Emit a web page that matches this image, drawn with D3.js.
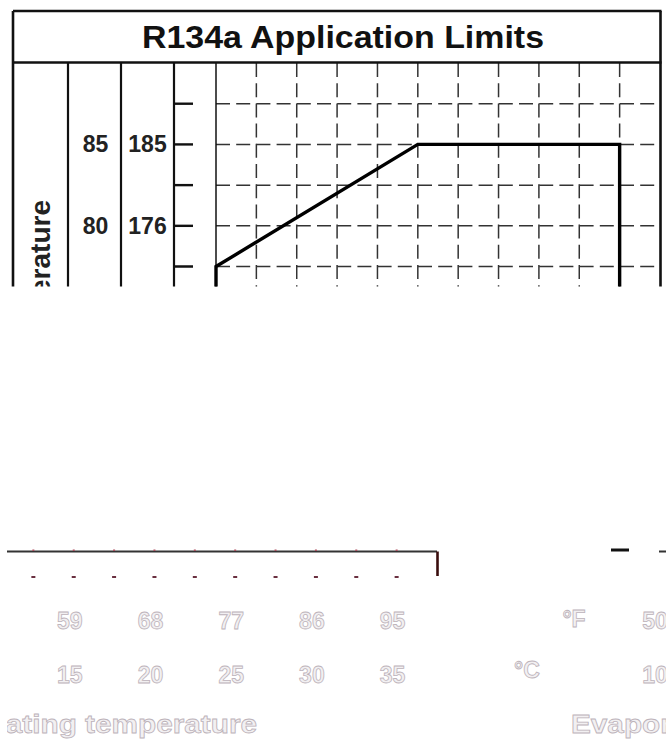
<!DOCTYPE html>
<html><head><meta charset="utf-8">
<script src="https://cdn.jsdelivr.net/npm/d3@7"></script>
<style>html,body{margin:0;padding:0;background:#fff;} svg{display:block;}</style>
</head><body>
<svg id="c" width="666" height="740"></svg>
<script>
// ---- data ----
const title = "R134a  Application Limits";
const yAxisTitle = "Condensing temperature";
const xAxisTitle = "Evaporating temperature";
const yGrid = [62.5, 65, 67.5, 70, 72.5, 75, 77.5, 80, 82.5, 85, 87.5];
const yLabelsC = [65, 70, 75, 80, 85];
const yLabelsF = [149, 158, 167, 176, 185];
const xGrid = [12.5, 15, 17.5, 20, 22.5, 25, 27.5, 30, 32.5, 35];
const xLabelsC = [10, 15, 20, 25, 30, 35];
const xLabelsF = [50, 59, 68, 77, 86, 95];
const envEvap = [10, 10, 22.5, 35, 35];
const envCond = [75, 77.5, 85, 85, 75];

// ---- layout ----
const W = 666, H = 740;
const frameL = 13, frameR = 660.5, frameT = 11, titleB = 62.5;
const colC = 68, colF = 121, colAxis = 174;
const x = d3.scaleLinear().domain([10, 37.5]).range([216, 660]);
const y = d3.scaleLinear().domain([60, 90]).range([551.5, 63]);
const fToC = f => (f - 32) * 5 / 9;
const wrapShift = -223;
const FONT = "'Liberation Sans', Arial, Helvetica, sans-serif";

const svg = d3.select("#c");
const defs = svg.append("defs");
defs.append("clipPath").attr("id", "clipTop").append("rect")
  .attr("x", 0).attr("y", 0).attr("width", W).attr("height", 286.5);
defs.append("clipPath").attr("id", "clipBot").append("rect")
  .attr("x", 7).attr("y", 545).attr("width", W - 7).attr("height", H - 545);

// ---- top (intact) part ----
const gTop = svg.append("g").attr("clip-path", "url(#clipTop)");
const line = (g, x1, y1, x2, y2, w, c) => g.append("line")
  .attr("x1", x1).attr("y1", y1).attr("x2", x2).attr("y2", y2)
  .attr("stroke", c || "#111").attr("stroke-width", w);

// grid
gTop.append("g").selectAll("line").data(yGrid).join("line")
  .attr("x1", x(10)).attr("x2", x(37.5))
  .attr("y1", d => y(d)).attr("y2", d => y(d))
  .attr("stroke", "#333").attr("stroke-width", 1.5).attr("stroke-dasharray", "14,6.2");
gTop.append("g").selectAll("line").data(xGrid).join("line")
  .attr("x1", d => x(d)).attr("x2", d => x(d))
  .attr("y1", y(90)).attr("y2", y(60))
  .attr("stroke", "#333").attr("stroke-width", 1.5).attr("stroke-dasharray", "14,6.2");

// frame
line(gTop, frameL, frameT, frameR + 1, frameT, 2.6);
line(gTop, frameL, titleB, frameR + 1, titleB, 2.6);
line(gTop, frameL, frameT, frameL, H, 2.6);
[colC, colF, colAxis].forEach(c => line(gTop, c, titleB, c, H, 2.2));
line(gTop, frameR, frameT, frameR, H, 2.6);
line(gTop, x(10), y(90), x(10), y(60), 1.5);

// y ticks
gTop.append("g").selectAll("line").data(yGrid).join("line")
  .attr("x1", colAxis).attr("x2", colAxis + 19)
  .attr("y1", d => y(d)).attr("y2", d => y(d))
  .attr("stroke", "#111").attr("stroke-width", 2.4);

// y labels
gTop.append("g").selectAll("text").data(yLabelsC).join("text")
  .attr("x", (colC + colF) / 2 + 1).attr("y", d => y(d) + 2)
  .attr("text-anchor", "middle").attr("dominant-baseline", "middle")
  .attr("font-family", FONT).attr("font-weight", "bold").attr("font-size", 23)
  .attr("fill", "#222").text(d => d);
gTop.append("g").selectAll("text").data(yLabelsF).join("text")
  .attr("x", (colF + colAxis) / 2).attr("y", d => y(fToC(d)) + 2)
  .attr("text-anchor", "middle").attr("dominant-baseline", "middle")
  .attr("font-family", FONT).attr("font-weight", "bold").attr("font-size", 23)
  .attr("fill", "#222").text(d => d);

// rotated axis title
gTop.append("text")
  .attr("transform", `translate(${(frameL + colC) / 2},200) rotate(-90)`)
  .attr("text-anchor", "end").attr("dominant-baseline", "central")
  .attr("font-family", FONT).attr("font-weight", "bold").attr("font-size", 28)
  .attr("fill", "#222").text(yAxisTitle);

// envelope
const env = envEvap.map((e, i) => [x(e), y(envCond[i])]);
gTop.append("path").attr("d", d3.line()(env))
  .attr("fill", "none").attr("stroke", "#000").attr("stroke-width", 3.4)
  .attr("stroke-linejoin", "miter");

// title
svg.append("text").attr("x", 343).attr("y", 48)
  .attr("text-anchor", "middle").attr("font-family", FONT)
  .attr("font-weight", "bold").attr("font-size", 32).attr("fill", "#111")
  .attr("textLength", 402).attr("lengthAdjust", "spacingAndGlyphs")
  .text(title);

// ---- bottom (shifted, faded) strip ----
const gBot = svg.append("g").attr("clip-path", "url(#clipBot)");
const faint = s => s.attr("fill", "#f2f0f2").attr("stroke", "#bdb3ba").attr("stroke-width", 0.8);
[wrapShift, wrapShift + W].forEach(off => {
  const g = gBot.append("g").attr("transform", `translate(${off},0)`);
  line(g, x(10), y(60), x(37.5), y(60), 2, "#333");
  line(g, colAxis - 6, y(60) - 1.5, colAxis + 12, y(60) - 1.5, 3, "#111");
  line(g, frameR, y(60), frameR, 576, 2.6, "#3a0d0d");
  g.append("g").selectAll("rect").data(xGrid).join("rect")
    .attr("x", d => x(d) - 1).attr("y", y(60) - 2).attr("width", 2).attr("height", 1.5)
    .attr("fill", "#b05060");
  g.append("g").selectAll("rect").data(xGrid).join("rect")
    .attr("x", d => x(d) - 2).attr("y", 576).attr("width", 4).attr("height", 2)
    .attr("fill", "#6a3040");
  g.append("g").selectAll("text").data(xLabelsF).join("text")
    .attr("x", d => x(fToC(d)) - 4).attr("y", 629)
    .attr("text-anchor", "middle").attr("font-family", FONT).attr("font-weight", "bold")
    .attr("font-size", 23).call(faint).text(d => d);
  g.append("g").selectAll("text").data(xLabelsC).join("text")
    .attr("x", d => x(d) - 4).attr("y", 683)
    .attr("text-anchor", "middle").attr("font-family", FONT).attr("font-weight", "bold")
    .attr("font-size", 23).call(faint).text(d => d);
  g.append("text").attr("x", 131).attr("y", 627).attr("text-anchor", "middle")
    .attr("font-family", FONT).attr("font-weight", "bold").attr("font-size", 23)
    .call(faint).text("°F");
  g.append("text").attr("x", 84).attr("y", 678).attr("text-anchor", "middle")
    .attr("font-family", FONT).attr("font-weight", "bold").attr("font-size", 23)
    .call(faint).text("°C");
  g.append("text").attr("x", 128).attr("y", 733)
    .attr("font-family", FONT).attr("font-weight", "bold").attr("font-size", 26)
    .attr("textLength", 352).attr("lengthAdjust", "spacingAndGlyphs")
    .call(faint).text(xAxisTitle);
});
</script>
</body></html>
